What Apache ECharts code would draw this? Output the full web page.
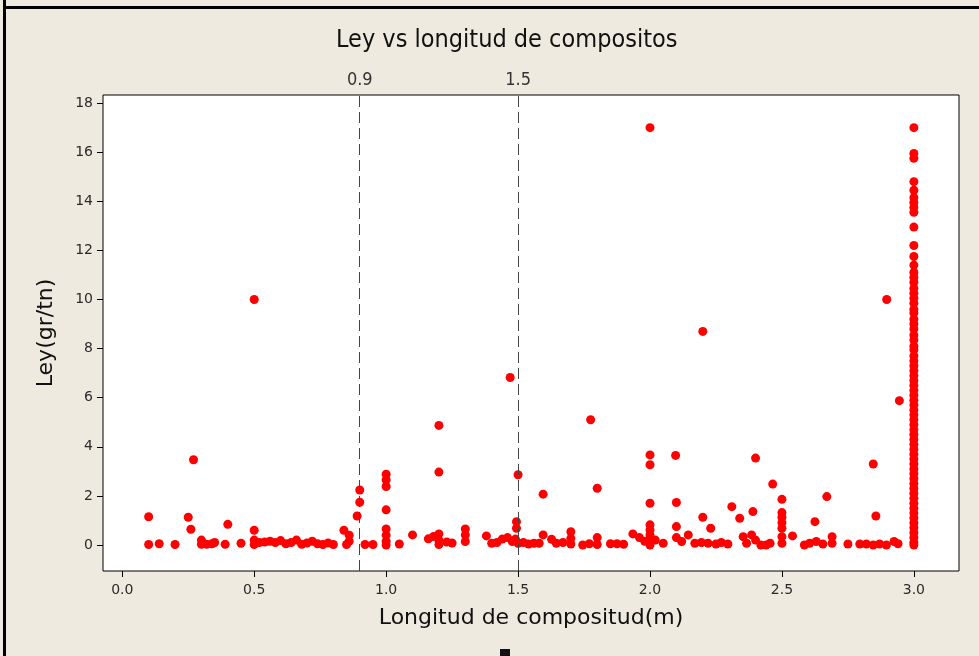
<!DOCTYPE html>
<html>
<head>
<meta charset="utf-8">
<script src="https://cdn.jsdelivr.net/npm/echarts@6/dist/echarts.min.js"></script>
<style>
html,body{margin:0;padding:0;background:#EEEAE0;}
#chart{width:979px;height:656px;}
</style>
</head>
<body>
<div id="chart"></div>
<script>
// ---- data ----
const titleText = 'Ley vs longitud de compositos';
const xName = 'Longitud de compositud(m)';
const yName = 'Ley(gr/tn)';
const xTicks = [0, 0.5, 1.0, 1.5, 2.0, 2.5, 3.0];
const yTicks = [0, 2, 4, 6, 8, 10, 12, 14, 16, 18];
const refLines = [0.9, 1.5];

const tramo1 = [[0.10,1.15],[0.10,0.02],[0.14,0.05],[0.20,0.02],[0.27,3.47],[0.25,1.13],[0.26,0.64],
 [0.30,0.2],[0.30,0.03],[0.32,0.03],[0.34,0.05],[0.35,0.1],[0.40,0.84],[0.39,0.03],[0.45,0.07],
 [0.50,10.0],[0.50,0.6],[0.50,0.2],[0.50,0.02],[0.52,0.1],[0.54,0.12],[0.56,0.15],[0.58,0.1],[0.60,0.18],
 [0.62,0.05],[0.64,0.1],[0.66,0.2],[0.68,0.03],[0.70,0.08],[0.72,0.15],[0.74,0.05],[0.76,0.02],[0.78,0.08],[0.80,0.02],
 [0.84,0.6],[0.86,0.4],[0.85,0.02],[0.86,0.15],[0.89,1.18],[0.90,1.74],[0.90,2.24]];

const tramo2 = [[0.92,0.02],[0.95,0.02],[1.0,2.88],[1.0,2.65],[1.0,2.38],[1.0,1.43],[1.0,0.65],[1.0,0.4],[1.0,0.15],[1.0,0.0],
 [1.05,0.04],[1.10,0.41],[1.16,0.25],[1.18,0.35],[1.20,4.87],[1.20,2.97],[1.20,0.45],[1.20,0.2],[1.20,0.02],[1.23,0.12],[1.25,0.08],
 [1.30,0.65],[1.30,0.41],[1.30,0.14],[1.38,0.37],[1.40,0.07],[1.42,0.1],[1.44,0.24],[1.46,0.3],[1.47,6.82],[1.478,0.14],
 [1.49,0.24],[1.494,0.68],[1.494,0.95],[1.50,2.86],[1.50,0.07],[1.52,0.1],[1.54,0.04],[1.56,0.07],[1.58,0.07]];

const tramo3 = [[1.595,2.07],[1.595,0.41],[1.627,0.23],[1.645,0.07],[1.67,0.1],[1.70,0.54],[1.70,0.27],[1.70,0.04],
 [1.745,0.0],[1.77,0.05],[1.775,5.1],[1.80,2.31],[1.80,0.3],[1.80,0.02],[1.85,0.05],[1.875,0.05],[1.90,0.03],
 [1.935,0.45],[1.96,0.3],[1.98,0.15]];

const tramo4 = [[2.0,17.0],[2.0,3.67],[2.0,3.27],[2.0,1.70],[2.0,0.82],[2.0,0.61],[2.0,0.41],[2.0,0.2],[2.0,0.0],[2.02,0.2],[2.05,0.07],
 [2.097,3.65],[2.10,1.73],[2.10,0.75],[2.10,0.3],[2.12,0.14],[2.145,0.41],[2.17,0.07],[2.195,0.1],[2.20,8.7],[2.20,1.13],[2.23,0.68],
 [2.22,0.07],[2.25,0.04],[2.27,0.1],[2.295,0.04],[2.31,1.56],[2.34,1.09],[2.39,1.36],[2.40,3.54],[2.353,0.34],[2.366,0.07],
 [2.385,0.41],[2.40,0.2],[2.42,0.0],[2.44,0.0],[2.455,0.07],[2.465,2.48],
 [2.50,1.86],[2.50,1.32],[2.50,1.13],[2.50,0.91],[2.50,0.68],[2.50,0.34],[2.50,0.07]];

const tramo5 = [[2.54,0.37],[2.585,0.0],[2.605,0.07],[2.625,0.95],[2.63,0.14],[2.655,0.04],[2.69,0.34],[2.69,0.07],[2.67,1.97],
 [2.75,0.04],[2.795,0.04],[2.82,0.04],[2.846,3.3],[2.856,1.18],[2.846,0.0],[2.87,0.04],[2.897,10.0],[2.896,0.0],
 [2.925,0.14],[2.94,0.05],[2.945,5.88]];

// points at longitud = 3.0 m
const columna30x = 3.0;
const columna30 = [17.0,15.95,15.75,14.8,14.45,14.15,13.95,13.75,13.55,12.95,12.2,11.75,11.4,11.1,10.9,10.7,10.45,10.25,
 10.05,9.85,9.6,9.45,9.2,9.0,8.8,8.55,8.35,8.1,7.95,7.7,7.5,7.3,7.1,6.9,6.7,6.5,6.3,6.1,5.9,5.7,5.5,5.3,5.1,4.9,4.7,
 4.5,4.3,4.1,3.9,3.7,3.5,3.3,3.1,2.9,2.7,2.5,2.3,2.1,1.9,1.7,1.5,1.3,1.1,0.9,0.7,0.5,0.3,0.1,0.0];

// ---- chart ----
const allPoints = [].concat(tramo1, tramo2, tramo3, tramo4, tramo5, columna30.map(v => [columna30x, v]));

const chart = echarts.init(document.getElementById('chart'), null, {renderer: 'canvas'});
const tickFont = {fontFamily: 'DejaVu Sans', fontSize: 14, color: '#2a2a2a'};

chart.setOption({
  backgroundColor: '#EEEAE0',
  animation: false,
  title: {
    text: titleText, left: 331, top: 23,
    textStyle: {fontFamily: 'DejaVu Sans Condensed, DejaVu Sans', fontSize: 25, fontWeight: 'normal', color: '#111'}
  },
  grid: {left: 103, right: 20, top: 95, bottom: 85, show: true, backgroundColor: '#fff', borderColor: '#000', borderWidth: 1},
  xAxis: {
    type: 'value', min: -0.073, max: 3.171,
    name: xName, nameLocation: 'middle', nameGap: 36,
    nameTextStyle: {fontFamily: 'DejaVu Sans', fontSize: 22, color: '#111'},
    axisLine: {show: false, onZero: false},
    axisTick: {show: true, customValues: xTicks, length: 6, lineStyle: {color: '#000'}},
    axisLabel: {customValues: xTicks, formatter: v => v.toFixed(1), margin: 12, ...tickFont},
    splitLine: {show: false}
  },
  yAxis: {
    type: 'value', min: -1.06, max: 18.33,
    name: yName, nameLocation: 'middle', nameGap: 46, nameRotate: 90,
    nameTextStyle: {fontFamily: 'DejaVu Sans', fontSize: 22, color: '#111'},
    axisLine: {show: false, onZero: false},
    axisTick: {show: true, customValues: yTicks, length: 6, lineStyle: {color: '#000'}},
    axisLabel: {customValues: yTicks, margin: 10, ...tickFont},
    splitLine: {show: false}
  },
  series: [{
    type: 'scatter',
    data: allPoints,
    symbol: 'circle',
    symbolSize: 9,
    itemStyle: {color: '#FF0000', opacity: 1},
    markLine: {
      silent: true,
      symbol: ['none', 'none'],
      lineStyle: {color: '#444', width: 1, type: [11, 5]},
      label: {show: true, position: 'end', distance: 6, formatter: p => String(p.value),
        fontFamily: 'DejaVu Sans Condensed, DejaVu Sans', fontSize: 18, color: '#333'},
      data: refLines.map(v => ({xAxis: v}))
    }
  }],
  graphic: [
    {type: 'rect', shape: {x: 3, y: 0, width: 3, height: 656}, style: {fill: '#000'}},
    {type: 'rect', shape: {x: 3, y: 6, width: 976, height: 3}, style: {fill: '#000'}},
    {type: 'rect', shape: {x: 500, y: 649, width: 10, height: 7}, style: {fill: '#111'}}
  ]
});
</script>
</body>
</html>
